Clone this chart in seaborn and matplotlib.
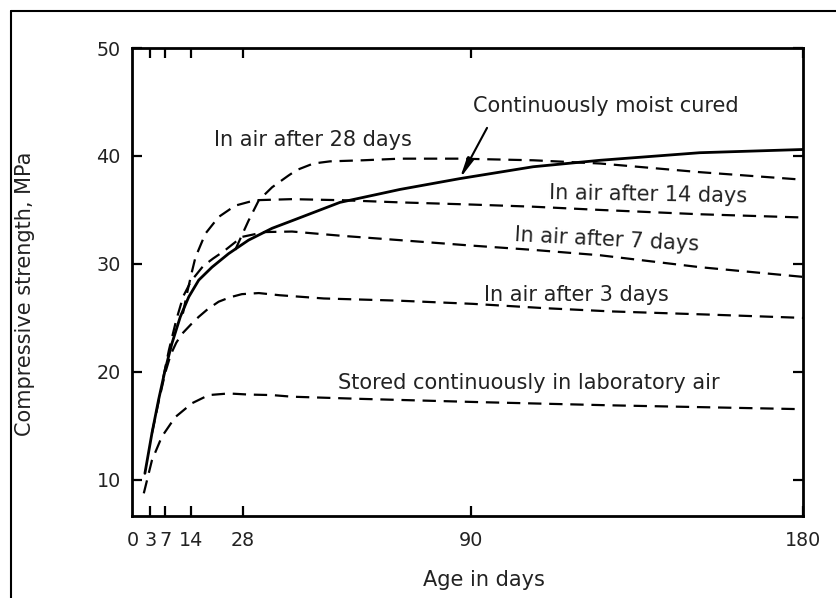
import matplotlib
matplotlib.use("Agg")
import matplotlib.pyplot as plt
import seaborn as sns
import pandas as pd
from matplotlib.lines import Line2D

# ---------------- data (age in days, compressive strength in MPa) ----------------
moist_days = [1.5, 3.4, 5.2, 7.0, 8.8, 11.1, 13.4, 16.1, 19.7, 24.2, 29.6, 36.0, 41.4,
              54.4, 65.3, 70.7, 86.9, 106.8, 125, 152, 180]
moist_mpa = [10.6, 14.3, 17.4, 20.2, 22.6, 25.1, 26.95, 28.5, 29.7, 30.95, 32.2, 33.3, 34.0,
             35.7, 36.5, 36.9, 37.9, 39.0, 39.6, 40.3, 40.6]

air28_days = [26.0, 29.6, 32.4, 36, 40.5, 42.7, 47.2, 51.7, 60.7, 70.7, 86.9, 106.8, 125, 152, 180]
air28_mpa = [31.3, 34.0, 35.9, 37.1, 38.2, 38.7, 39.3, 39.5, 39.6, 39.75, 39.75, 39.6, 39.3, 38.5, 37.8]

air14_days = [11.8, 13.0, 14.2, 15.2, 17.9, 21.5, 26, 31.4, 41.4, 55, 70.7, 90, 106.8, 125, 152, 180]
air14_mpa = [25.4, 27.4, 29.2, 30.6, 32.8, 34.35, 35.4, 35.9, 36.0, 35.9, 35.7, 35.5, 35.3, 35.0, 34.6, 34.3]

air7_days = [6.5, 8, 10, 11.9, 14, 17.3, 20, 23, 27.8, 34, 41.4, 55, 70.7, 90, 106.8, 125, 152, 180]
air7_mpa = [19.5, 22.0, 24.8, 27.0, 28.4, 29.8, 30.5, 31.2, 32.5, 32.95, 33.0, 32.6, 32.2, 31.7, 31.3, 30.8, 29.7, 28.8]

air3_days = [3.4, 5.2, 7, 8.5, 10, 11.5, 14, 16.1, 18.5, 21.5, 24.5, 27.8, 32.4, 38, 50, 70, 90.5, 110, 128, 155, 180]
air3_mpa = [14.3, 17.2, 19.9, 21.6, 22.7, 23.5, 24.4, 25.1, 25.8, 26.5, 26.9, 27.2, 27.3, 27.1, 26.8, 26.6, 26.3, 25.9, 25.6, 25.3, 25.0]

lab_days = [1.2, 3.4, 6.1, 9.7, 14.3, 18.8, 24.2, 29.6, 36, 41.4, 60, 92, 128, 179]
lab_mpa = [8.75, 11.8, 14.0, 15.8, 17.1, 17.85, 18.0, 17.9, 17.85, 17.7, 17.5, 17.2, 16.9, 16.55]

x_ticks = [0, 3, 7, 14, 28, 90, 180]
y_ticks = [10, 20, 30, 40, 50]

series_names = ["In air after 28 days", "In air after 14 days", "In air after 7 days",
                "In air after 3 days", "Stored continuously in laboratory air"]
series_data = [(air28_days, air28_mpa), (air14_days, air14_mpa), (air7_days, air7_mpa),
               (air3_days, air3_mpa), (lab_days, lab_mpa)]

# ---------------- build frames ----------------
rows = []
for name, (d, m) in zip(series_names, series_data):
    for xi, yi in zip(d, m):
        rows.append({"day": xi, "mpa": yi, "series": name})
dashed_df = pd.DataFrame(rows)
moist_df = pd.DataFrame({"day": moist_days, "mpa": moist_mpa})

# ---------------- style ----------------
sns.set_style("ticks")
plt.rcParams["font.family"] = ["DejaVu Sans"]
text_color = "#222222"

fig = plt.figure(figsize=(8.37, 5.98), dpi=100)
ax = fig.add_axes([132 / 837, 1 - 516 / 598, 671 / 837, 468 / 598])

sns.lineplot(data=moist_df, x="day", y="mpa", ax=ax, color="black", lw=2.0,
             estimator=None, sort=False)
sns.lineplot(data=dashed_df, x="day", y="mpa", hue="series", style="series", ax=ax,
             palette={n: "black" for n in series_names},
             dashes={n: (6, 3.5) for n in series_names},
             lw=1.6, estimator=None, sort=False, legend=False)

ax.set_xlim(-2, 180)
ax.set_ylim(6.65, 50)
ax.set_xticks(x_ticks)
ax.set_xticklabels([str(t) for t in x_ticks])
ax.set_yticks(y_ticks)
ax.set_yticklabels([str(t) for t in y_ticks])

for s in ax.spines.values():
    s.set_visible(True)
    s.set_linewidth(2.0)
    s.set_color("black")

ax.tick_params(axis="both", direction="in", length=7, width=1.6, colors="black",
               top=True, right=True, labelsize=13.8, labelcolor=text_color)
ax.tick_params(axis="x", pad=11)
ax.tick_params(axis="y", pad=8)

xt = ax.xaxis.get_major_ticks()
xt[0].tick1line.set_visible(False)
xt[0].tick2line.set_visible(False)
xt[0].label1.set_horizontalalignment("right")

ax.set_xlabel("Age in days", fontsize=15, color=text_color)
ax.set_ylabel("Compressive strength, MPa", fontsize=15, color=text_color)
ax.xaxis.set_label_coords(0.525, -0.115)
ax.yaxis.set_label_coords(-0.145, 0.474)

# ---------------- curve labels ----------------
ax.text(126.4, 44.6, "Continuously moist cured", fontsize=15, ha="center", va="center", color=text_color)
ax.annotate("", xy=(86.9, 37.9), xytext=(94.3, 42.6),
            arrowprops=dict(arrowstyle="-|>,head_length=1.2,head_width=0.2", lw=1.5,
                            color="black", shrinkA=0, shrinkB=0))
ax.text(47.1, 41.5, "In air after 28 days", fontsize=15, ha="center", va="center", color=text_color)
ax.text(138.1, 36.4, "In air after 14 days", fontsize=15, ha="center", va="center",
        color=text_color, rotation=-1)
ax.text(126.7, 32.2, "In air after 7 days", fontsize=15, ha="center", va="center",
        color=text_color, rotation=-3)
ax.text(118.4, 27.1, "In air after 3 days", fontsize=15, ha="center", va="center", color=text_color)
ax.text(105.7, 19.0, "Stored continuously in laboratory air", fontsize=15, ha="center",
        va="center", color=text_color)

# ---------------- outer frame (cut at right/bottom like the reference) ----------------
fx = 11 / 837
fy = 1 - 11 / 598
fig.add_artist(Line2D([fx, fx], [0, fy], transform=fig.transFigure, color="black", lw=1.5))
fig.add_artist(Line2D([fx, 1], [fy, fy], transform=fig.transFigure, color="black", lw=1.5))

fig.savefig("out.png", dpi=100, facecolor="white")
